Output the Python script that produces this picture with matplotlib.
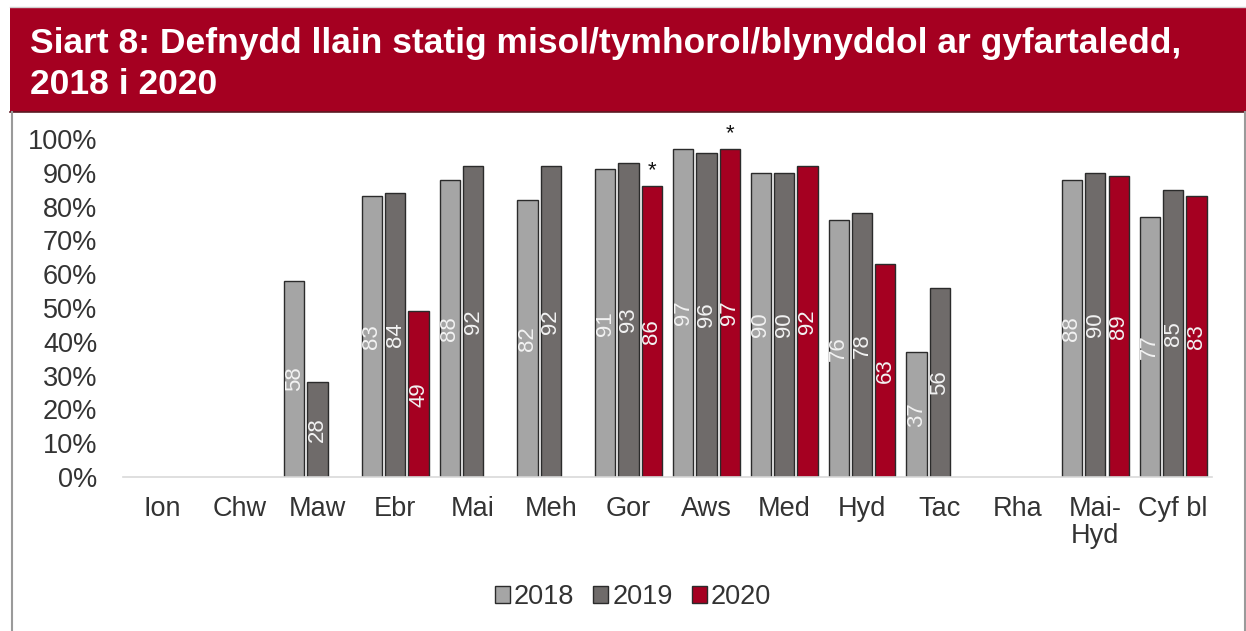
import matplotlib
matplotlib.use("Agg")
import matplotlib.pyplot as plt
from matplotlib.patches import Rectangle
from matplotlib.lines import Line2D
import numpy as np

plt.rcParams['font.family'] = ['Liberation Sans', 'DejaVu Sans']

categories = ["Ion", "Chw", "Maw", "Ebr", "Mai", "Meh", "Gor", "Aws", "Med", "Hyd", "Tac", "Rha", "Mai-\nHyd", "Cyf bl"]
years = ["2018", "2019", "2020"]
v2018 = [None, None, 58, 83, 88, 82, 91, 97, 90, 76, 37, None, 88, 77]
v2019 = [None, None, 28, 84, 92, 92, 93, 96, 90, 78, 56, None, 90, 85]
v2020 = [None, None, None, 49, None, None, 86, 97, 92, 63, None, None, 89, 83]
star2020 = [False, False, False, False, False, False, True, True, False, False, False, False, False, False]
yticks = [0, 10, 20, 30, 40, 50, 60, 70, 80, 90, 100]

colors = ["#A5A5A5", "#6F6B6A", "#A50021"]
red = "#A50021"

fig = plt.figure(figsize=(12.46, 6.31), dpi=100)

# banner
fig.patches.append(Rectangle((10/1246, 1-112/631), 1-10/1246, (112-8)/631,
                             transform=fig.transFigure, facecolor=red, edgecolor='none', zorder=0))
fig.lines.append(Line2D([10/1246, 1], [1-112/631]*2, transform=fig.transFigure, color="#5a1a22", lw=1.2))
fig.lines.append(Line2D([10/1246, 1], [1-7/631]*2, transform=fig.transFigure, color="#d0d0d0", lw=1.0))
# side borders
fig.lines.append(Line2D([11.5/1246]*2, [0, 1-112/631], transform=fig.transFigure, color="#9a9a9a", lw=1.5))
fig.lines.append(Line2D([1244.5/1246]*2, [0, 1-112/631], transform=fig.transFigure, color="#9a9a9a", lw=1.5))

fig.text(30/1246, 1-43/631, "Siart 8: Defnydd llain statig misol/tymhorol/blynyddol ar gyfartaledd,",
         color="white", fontsize=25.5, fontweight="bold", va="center", ha="left")
fig.text(30/1246, 1-84/631, "2018 i 2020",
         color="white", fontsize=25.5, fontweight="bold", va="center", ha="left")

ax = fig.add_axes([123/1246, 1-477/631, (1212-123)/1246, (477-139)/631])

x = np.arange(len(categories))
step = 0.30
width = 0.26
series = [v2018, v2019, v2020]
for i, (vals, c) in enumerate(zip(series, colors)):
    for j, v in enumerate(vals):
        if v is None:
            continue
        xpos = x[j] + (i - 1) * step
        ax.bar(xpos, v, width=width, color=c, edgecolor="#2b2b2b", linewidth=1.0, zorder=2)
        ax.text(xpos, v / 2, str(v), rotation=90, ha="center", va="center",
                color="#f2f2f2", fontsize=16, zorder=3)
        if i == 2 and star2020[j]:
            ax.text(xpos, v + 1.6, "*", ha="center", va="bottom", color="#111111",
                    fontsize=16, clip_on=False)

ax.set_xlim(-0.5, len(categories) - 0.5)
ax.set_ylim(0, 100)
ax.set_yticks(yticks)
ax.set_yticklabels([f"{t}%" for t in yticks])
ax.set_xticks(x)
ax.set_xticklabels(categories, linespacing=1.05)
ax.tick_params(axis="y", length=0, pad=18.5, labelsize=19.5, labelcolor="#333333")
ax.tick_params(axis="x", length=0, pad=14, labelsize=19.5, labelcolor="#333333")
for tl in ax.get_xticklabels():
    tl.set_va("top")
for s in ["top", "right", "left"]:
    ax.spines[s].set_visible(False)
ax.spines["bottom"].set_color("#d9d9d9")
ax.spines["bottom"].set_linewidth(1.2)
ax.set_facecolor("none")

handles = [Rectangle((0, 0), 1, 1, facecolor=c, edgecolor="#2b2b2b", linewidth=1.0) for c in colors]
fig.legend(handles, years, loc="center", bbox_to_anchor=(633/1246, 1-597/631), ncol=3, frameon=False,
           fontsize=19.5, handlelength=0.55, handleheight=0.55, handletextpad=0.15, columnspacing=0.7,
           labelcolor="#333333")

fig.savefig("out.png", dpi=100)
